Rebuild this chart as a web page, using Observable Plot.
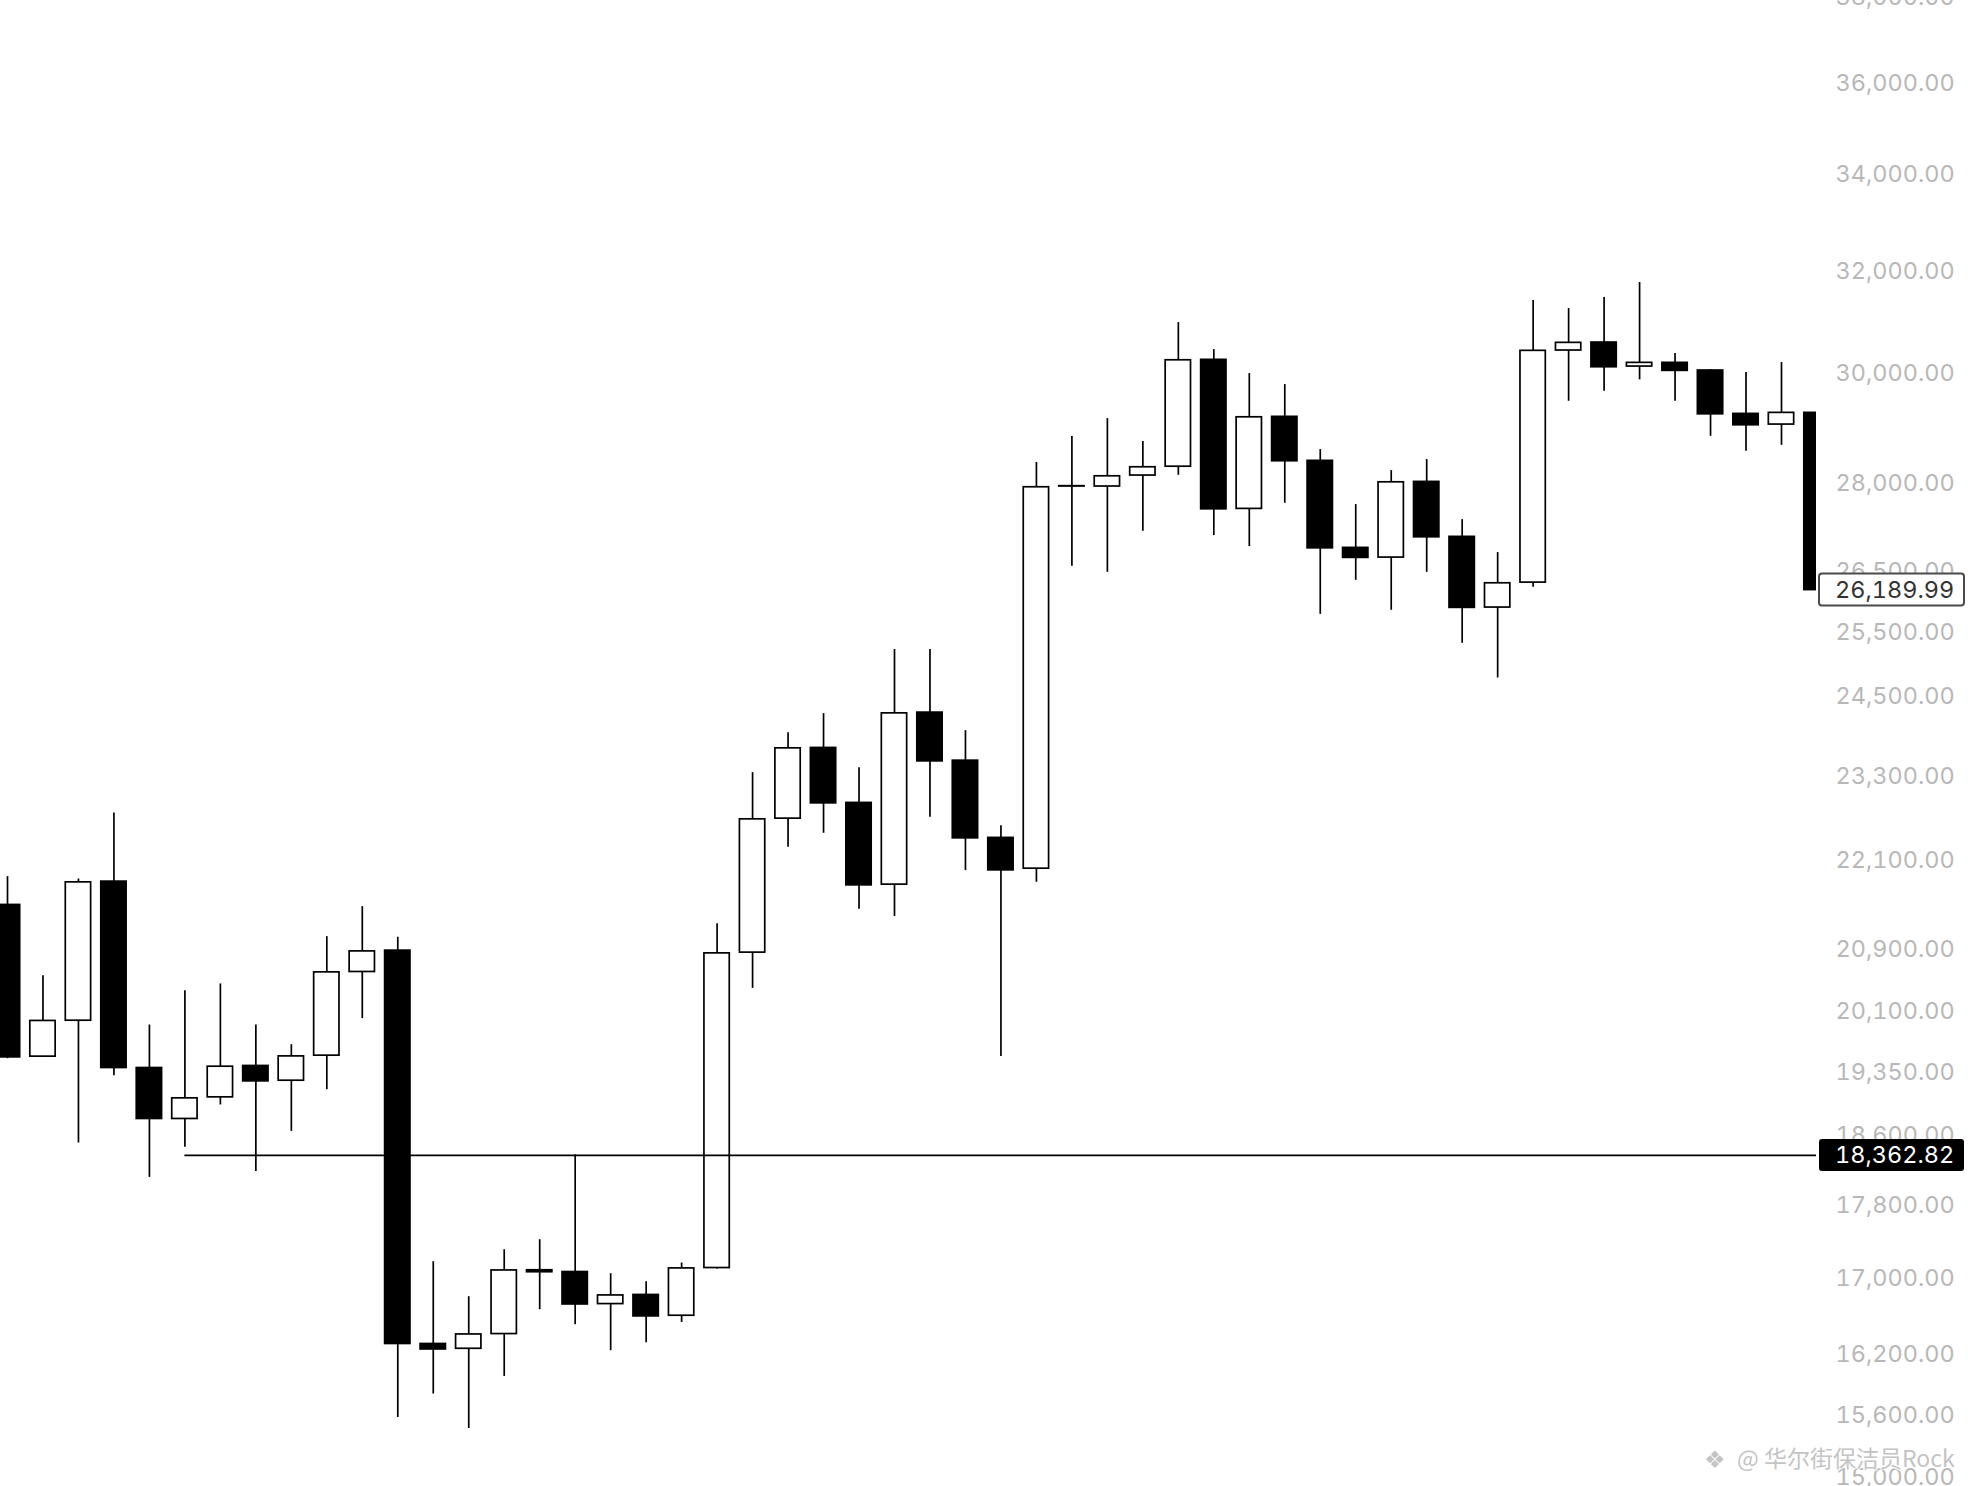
<!DOCTYPE html>
<html>
<head>
<meta charset="utf-8">
<script src="https://cdn.jsdelivr.net/npm/d3@7"></script>
<script src="https://cdn.jsdelivr.net/npm/@observablehq/plot@0.6"></script>
<style>
  html, body { margin: 0; padding: 0; background: #ffffff; }
  #chart svg { display: block; }
  #chart svg text { font-variant-numeric: tabular-nums; font-feature-settings: "tnum" 1; }
</style>
</head>
<body>
<div id="chart"></div>
<script>
// ---- data (one candle per period) ----
const candleIndex = d3.range(52);
const openPrices = [
  21491, 19538, 19984, 21808, 19399, 18788, 19045, 19424, 19245, 19550,
  20605, 20883, 16312, 16263, 16414, 17085, 17066, 16726, 16822, 16604,
  17109, 20857, 22688, 23718, 22913, 21767, 24250, 23529, 22415, 21986,
  27950, 27950, 28143, 28300, 30264, 27560, 29200, 28404, 26893, 26730,
  28031, 27080, 25904, 26313, 30442, 30595, 30137, 30207, 30062, 29254,
  29059, 29273
];
const highPrices = [
  21876, 20557, 21845, 22769, 19930, 20365, 20451, 19930, 19685, 21067,
  21468, 21058, 17177, 16804, 17307, 17416, 18368, 17048, 16963, 17163,
  21240, 23353, 23947, 24235, 23426, 25229, 25229, 23977, 22588, 28373,
  28841, 29168, 28750, 30981, 30460, 30005, 29798, 28606, 27635, 28231,
  28427, 27375, 26814, 31413, 31255, 31472, 31770, 30384, 30080, 30024,
  30213, 29273
];
const lowPrices = [
  19513, 19538, 18507, 19306, 18111, 18456, 18954, 18179, 18642, 19137,
  20010, 15577, 15807, 15469, 15983, 16667, 16511, 16243, 16325, 16534,
  17098, 20394, 22283, 22480, 21432, 21334, 22706, 21959, 19541, 21798,
  26584, 26484, 27175, 28148, 27102, 26915, 27657, 25794, 26351, 25860,
  26484, 25329, 24784, 26236, 29487, 29673, 29886, 29487, 28846, 28575,
  28683, 26189.99
];
const closePrices = [
  19529, 19981, 21798, 19399, 18788, 19033, 19415, 19237, 19541, 20600,
  20873, 16312, 16256, 16410, 17083, 17064, 16722, 16817, 16597, 17105,
  20847, 22678, 23712, 22907, 21757, 24239, 23519, 22409, 21963, 27937,
  27956, 28130, 28290, 30256, 27553, 29192, 28397, 26886, 26725, 28024,
  27073, 25899, 26302, 30436, 30589, 30124, 30207, 30056, 29247, 29046,
  29273, 26189.99
];
const yTicks = [
  38000, 36000, 34000, 32000, 30000, 28000, 26500, 25500, 24500, 23300,
  22100, 20900, 20100, 19350, 18600, 17800, 17000, 16200, 15600, 15000
];
const lastPrice = 26189.99;
const refPrice = 18362.82;
const refStartIndex = 5;
const watermark = "@ 华尔街保洁员Rock";

// ---- build table ----
const candles = candleIndex.map(i => ({
  i,
  o: openPrices[i],
  h: highPrices[i],
  l: lowPrices[i],
  c: closePrices[i],
  up: closePrices[i] >= openPrices[i]
}));

const hw = 0.357;
const fmt = d3.format(",.2f");

const chart = Plot.plot({
  width: 1968,
  height: 1486,
  marginLeft: 0,
  marginRight: 152,
  marginTop: 0,
  marginBottom: 0,
  style: { background: "#ffffff", fontFamily: "Inter, 'Noto Sans', sans-serif" },
  x: { type: "linear", domain: [0, 50], range: [7, 1781], axis: null },
  y: { type: "log", domain: [15000, 36000], range: [1477, 83], axis: null },
  color: { type: "identity" },
  marks: [
    Plot.ruleX(candles, { x: "i", y1: "l", y2: "h", stroke: "#000", strokeWidth: 1.7, clip: true }),
    Plot.rect(candles, {
      x1: d => d.i - hw,
      x2: d => d.i + hw,
      y1: "o",
      y2: "c",
      fill: d => d.up ? "#ffffff" : "#000000",
      stroke: "#000",
      strokeWidth: 1.7,
      clip: true
    }),
    Plot.ruleY([refPrice], { y: d => d, x1: refStartIndex, x2: 60, stroke: "#000", strokeWidth: 1.7, clip: true }),
    Plot.text(yTicks, {
      y: d => d,
      text: d => fmt(d),
      frameAnchor: "right",
      dx: 19,
      textAnchor: "start",
      fill: "#b8b8b8",
      fontSize: 23.5,
      fontFamily: "Inter, sans-serif"
    })
  ]
});

document.getElementById("chart").appendChild(chart);

// ---- price tags on the right, positioned with Plot's y scale ----
const svg = d3.select(chart);
const yScale = chart.scale("y");
function priceTag(v, fill, stroke, textFill) {
  const cy = yScale.apply(v);
  const g = svg.append("g").attr("text-anchor", "start");
  g.append("rect")
    .attr("x", 1819).attr("y", cy - 16).attr("width", 145).attr("height", 32)
    .attr("rx", 3).attr("ry", 3)
    .attr("fill", fill).attr("stroke", stroke).attr("stroke-width", stroke === "none" ? 0 : 2);
  g.append("text")
    .attr("x", 1835).attr("y", cy).attr("dy", "0.36em")
    .attr("text-anchor", "start")
    .attr("fill", textFill)
    .attr("font-family", "Inter, sans-serif")
    .attr("font-size", 23.5)
    .text(fmt(v));
}
priceTag(lastPrice, "#ffffff", "#4a4a4a", "#333333");
priceTag(refPrice, "#000000", "none", "#ffffff");

// ---- watermark ----
const wm = svg.append("g")
  .attr("font-size", 22)
  .attr("fill", "#c4c4c4")
  .attr("stroke", "#ffffff")
  .attr("stroke-width", 2)
  .attr("paint-order", "stroke")
  .attr("text-anchor", "start");
wm.append("text")
  .attr("x", 1704).attr("y", 1459).attr("dy", "0.36em")
  .attr("text-anchor", "start")
  .attr("font-family", "'DejaVu Sans'")
  .attr("font-size", 24)
  .text("❖");
wm.append("text")
  .attr("x", 1737).attr("y", 1459).attr("dy", "0.36em")
  .attr("text-anchor", "start")
  .attr("font-family", "'Noto Sans CJK SC', sans-serif")
  .attr("font-size", 23)
  .text(watermark);
</script>
</body>
</html>
